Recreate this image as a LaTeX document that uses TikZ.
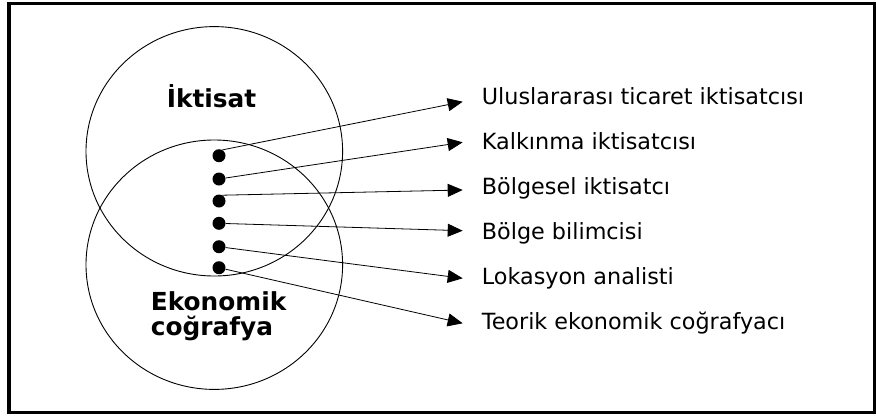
\documentclass[tikz,border=0pt]{standalone}
\usepackage{fontspec}
\setmainfont{DejaVu Sans}
\usetikzlibrary{arrows.meta}
\begin{document}
\begin{tikzpicture}[x=1pt,y=-1pt,
  frame/.style={line width=3.3pt},
  setcircle/.style={line width=0.9pt},
  dot/.style={circle,fill=black,inner sep=0pt,minimum size=13pt},
  role/.style={anchor=base west,inner sep=0pt,font=\fontsize{22.3}{26}\selectfont},
  field/.style={inner sep=0pt,font=\bfseries\fontsize{24.8}{24.3}\selectfont},
  link/.style={line width=0.8pt,-{Triangle[length=15pt,width=13pt]}}]
\useasboundingbox (0,0) rectangle (876,416);
\draw[frame] (9,3.3) rectangle (874.5,412.7);

% the two overlapping fields
\draw[setcircle] (214.3,151.3) ellipse [x radius=128.3, y radius=124.7];
\draw[setcircle] (214.3,264.7) ellipse [x radius=128.3, y radius=124.7];
\node[field,anchor=base] (iktisat) at (211.5,107) {İktisat};
\node[field,anchor=base west,align=left] (ekon) at (150.7,335) {Ekonomik\\coğrafya};

% specialists in the overlap
\node[dot] (d1) at (219,155.7) {};
\node[dot] (d2) at (219,179) {};
\node[dot] (d3) at (219,201) {};
\node[dot] (d4) at (219,223.3) {};
\node[dot] (d5) at (219,246.7) {};
\node[dot] (d6) at (219,267.7) {};

\coordinate (a1) at (462.7,101.7);
\coordinate (a2) at (462.7,142.3);
\coordinate (a3) at (462.7,190);
\coordinate (a4) at (462.7,230.7);
\coordinate (a5) at (462.7,278.3);
\coordinate (a6) at (462.7,323.3);

\node[role] (t1) at (481.7,104) {Uluslararası ticaret iktisatcısı};
\node[role] (t2) at (481.7,149.3) {Kalkınma iktisatcısı};
\node[role] (t3) at (481.7,194) {Bölgesel iktisatcı};
\node[role] (t4) at (481.7,239.3) {Bölge bilimcisi};
\node[role] (t5) at (481.7,284.3) {Lokasyon analisti};
\node[role] (t6) at (481.7,329) {Teorik ekonomik coğrafyacı};

\draw[link] (d1.60) -- (a1);
\draw[link] (d2) -- (a2);
\draw[link] (d3.60) -- (a3);
\draw[link] (d4) -- (a4);
\draw[link] (d5) -- (a5);
\draw[link] (d6) -- (a6);
\end{tikzpicture}
\end{document}
